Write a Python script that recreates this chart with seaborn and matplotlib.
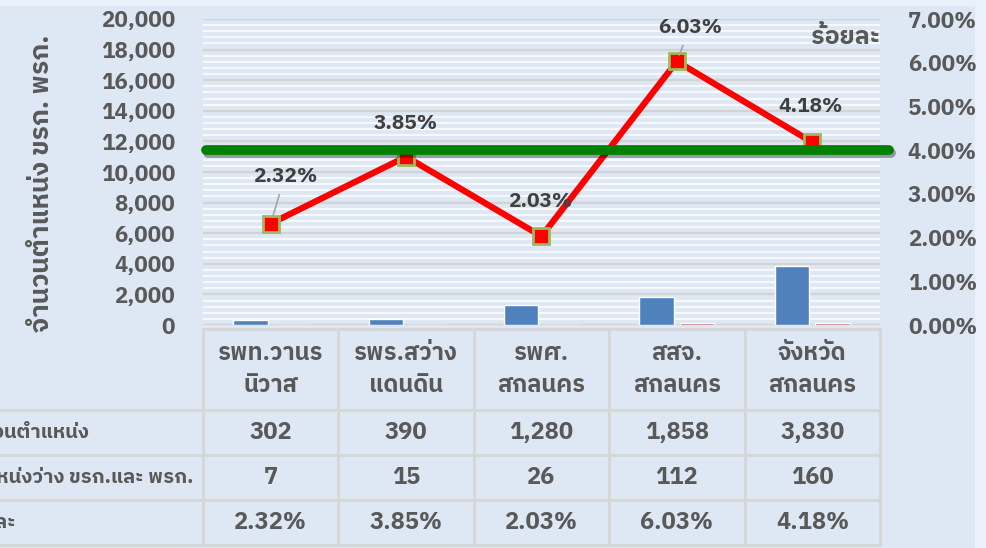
import matplotlib
matplotlib.use("Agg")
import matplotlib.pyplot as plt
import matplotlib.ticker as mticker
import matplotlib.transforms as mtransforms
import matplotlib.patheffects as pe
from matplotlib import font_manager
from matplotlib.patches import Rectangle
import seaborn as sns
import pandas as pd

# data
units = ["รพท.วานร\nนิวาส", "รพร.สว่าง\nแดนดิน", "รพศ.\nสกลนคร", "สสจ.\nสกลนคร", "จังหวัด\nสกลนคร"]
positions = [302, 390, 1280, 1858, 3830]
vacancies = [7, 15, 26, 112, 160]
percent = [2.32, 3.85, 2.03, 6.03, 4.18]
target = 4.0
row_labels = ["จำนวนตำแหน่ง", "ตำแหน่งว่าง ขรก.และ พรก.", "ร้อยละ"]
left_title = "จำนวนตำแหน่ง ขรก. พรก."
right_title = "ร้อยละ"

sns.set_style("white")
# look for something that can draw Thai, sans faces first
names = sorted({f.name for f in font_manager.fontManager.ttflist})
thai = [n for n in names if "Thai" in n or n in ("Loma", "Garuda", "Waree", "Kinnari", "Norasi", "Sarabun", "Kanit", "Prompt")]
thai.sort(key=lambda n: (0 if ("Sans" in n or n in ("Loma", "Garuda", "Waree", "Kanit", "Prompt")) else 1, "Looped" in n))
plt.rcParams["font.family"] = ([thai[0]] if thai else []) + ["Lato", "DejaVu Sans"]
plt.rcParams["font.weight"] = "bold"

text_col = "#595959"
panel = "#dde8f4"

fig = plt.figure(figsize=(9.87, 5.48), dpi=100, facecolor="#eaf1fb")
fig.patches.append(Rectangle((0, 0), 975 / 987, 542 / 548, transform=fig.transFigure,
                             facecolor=panel, edgecolor="none", zorder=-1))

ax = fig.add_axes([203 / 987, 1 - 325 / 548, 677 / 987, 306 / 548])
ax.set_facecolor("none")

# bars: positions and vacancies side by side
df = pd.DataFrame({
    "unit": units * 2,
    "series": ["positions"] * 5 + ["vacancies"] * 5,
    "value": positions + vacancies,
})
sns.barplot(data=df, x="unit", y="value", hue="series", palette=["#4f81bd", "#c0504d"],
            saturation=1, width=0.6, gap=0.15, legend=False, ax=ax, zorder=2)
ax.set_xlim(-0.5, 4.5)
ax.set_ylim(0, 20000)
ax.yaxis.set_major_locator(mticker.MultipleLocator(2000))
ax.yaxis.set_minor_locator(mticker.MultipleLocator(400))
ax.yaxis.set_major_formatter(mticker.FuncFormatter(lambda v, p: f"{v:,.0f}"))
ax.grid(axis="y", which="major", color="#d3d3d3", lw=1.6)
ax.grid(axis="y", which="minor", color="#f6f8fb", lw=1.6)
ax.set_axisbelow(True)
ax.set_xticks([])
ax.set_xlabel("")
ax.set_ylabel("")
ax.tick_params(axis="y", which="both", length=0, pad=20, labelsize=16, labelcolor=text_col)
for s in ax.spines.values():
    s.set_visible(False)

# percent line on the right axis
ax2 = ax.twinx()
ax2.set_facecolor("none")
sns.lineplot(x=list(range(len(percent))), y=percent, ax=ax2, color="red", lw=4.5,
             marker="s", markersize=11, markerfacecolor="red",
             markeredgecolor="#9bbb59", markeredgewidth=2, zorder=3)
ax2.axhline(target, xmin=0.004, xmax=1.013, color="#008000", lw=7, clip_on=False, zorder=5,
            path_effects=[pe.SimpleLineShadow(offset=(1.5, -2), alpha=0.35), pe.Normal()])
ax2.set_ylim(0, 7)
ax2.yaxis.set_major_locator(mticker.MultipleLocator(1))
ax2.yaxis.set_major_formatter(mticker.FuncFormatter(lambda v, p: f"{v:.2f}%"))
ax2.tick_params(axis="y", length=0, pad=20, labelsize=16, labelcolor=text_col)
ax2.set_ylabel("")
for s in ax2.spines.values():
    s.set_visible(False)

# data labels
offsets = [(14, 47), (0, 33), (-1, 35), (13, 34), (-2, 36)]
leaders = (0, 3)
for i, (p, off) in enumerate(zip(percent, offsets)):
    arrow = dict(arrowstyle="-", color="#a6a6a6", lw=1.2, shrinkA=4, shrinkB=5) if i in leaders else None
    ax2.annotate(f"{p:.2f}%", (i, p), xytext=off, textcoords="offset pixels",
                 ha="center", va="center", fontsize=15, color="#404040",
                 arrowprops=arrow, zorder=6)

trans = mtransforms.blended_transform_factory(ax.transData, ax.transAxes)
ax.text(4.5, 0.94, right_title, transform=trans, ha="right", va="center",
        fontsize=18, color=text_col, zorder=6)

fig.text(42 / 987, 1 - 183 / 548, left_title, rotation=90, ha="center", va="center",
         fontsize=19, color=text_col)

# data table under the plot
rows = [-0.013, -0.278, -0.425, -0.572, -0.719]
grid_col = "#d6d6d6"
ax.plot([-0.5, 4.5], [rows[0], rows[0]], transform=trans, color=grid_col, lw=2, clip_on=False)
for r in rows[1:]:
    ax.plot([-2.1, 4.5], [r, r], transform=trans, color=grid_col, lw=2, clip_on=False)
for k in range(len(units) + 1):
    ax.plot([k - 0.5, k - 0.5], [rows[0], rows[-1]], transform=trans, color=grid_col, lw=2, clip_on=False)

mids = [(rows[j] + rows[j + 1]) / 2 for j in range(4)]
cells = [
    [f"{v:,}" for v in positions],
    [f"{v:,}" for v in vacancies],
    [f"{v:.2f}%" for v in percent],
]
for i, u in enumerate(units):
    ax.text(i, mids[0], u, transform=trans, ha="center", va="center", fontsize=17,
            color=text_col, linespacing=1.45)
    for j, row in enumerate(cells):
        ax.text(i, mids[j + 1], row[i], transform=trans, ha="center", va="center",
                fontsize=17, color=text_col)
# row labels start left of the picture edge, as in the reference
for j, lab in enumerate(row_labels):
    ax.text(-2.295, mids[j + 1], lab, transform=trans, ha="left", va="center",
            fontsize=14.5, color=text_col)

fig.savefig("out.png", dpi=100, facecolor=fig.get_facecolor())
